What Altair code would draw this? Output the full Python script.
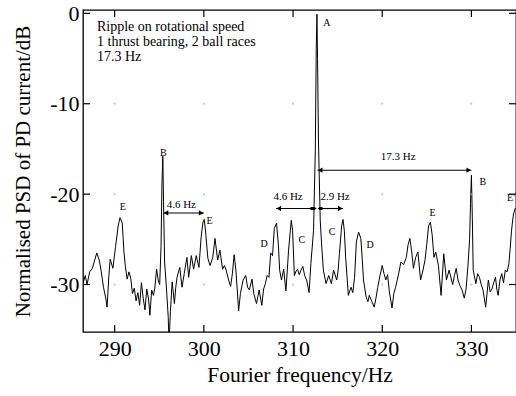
import altair as alt
import pandas as pd

# ---- spectrum ----
freq = [286.45, 286.7, 286.9, 287.2, 287.5, 287.7, 288.0, 288.3, 288.5, 288.75, 289.0, 289.15,
        289.35, 289.5, 289.8, 290.1, 290.4, 290.6, 290.85, 291.05, 291.2, 291.4, 291.6, 291.8,
        292.0, 292.2, 292.4, 292.6, 292.8, 293.0, 293.2, 293.4, 293.6, 293.8, 293.95, 294.15,
        294.35, 294.5, 294.7, 294.9, 295.05, 295.2, 295.3, 295.4, 295.5, 295.6, 295.8, 296.0,
        296.1, 296.25, 296.45, 296.7, 296.85, 297.0, 297.3, 297.55, 297.8, 298.1, 298.3, 298.6,
        298.85, 299.15, 299.45, 299.7, 299.9, 300.05, 300.2, 300.45, 300.7, 301.0, 301.25, 301.55,
        301.8, 302.1, 302.3, 302.5, 302.8, 303.0, 303.2, 303.4, 303.6, 303.9, 304.1, 304.4,
        304.7, 304.9, 305.1, 305.4, 305.6, 305.9, 306.2, 306.5, 306.7, 306.9, 307.1, 307.3,
        307.5, 307.7, 307.9, 308.15, 308.35, 308.5, 308.7, 308.95, 309.2, 309.35, 309.5, 309.8,
        309.95, 310.15, 310.35, 310.5, 310.7, 310.9, 311.1, 311.3, 311.55, 311.8, 312.0, 312.3,
        312.5, 312.6, 312.68, 312.75, 312.85, 313.05, 313.2, 313.4, 313.7, 314.0, 314.3, 314.55,
        314.9, 315.05, 315.2, 315.45, 315.6, 315.75, 315.9, 316.2, 316.5, 316.7, 316.9, 317.1,
        317.35, 317.6, 317.75, 317.9, 318.2, 318.4, 318.55, 318.85, 319.1, 319.3, 319.5, 319.75,
        320.0, 320.2, 320.4, 320.6, 320.8, 321.1, 321.3, 321.5, 321.8, 322.1, 322.4, 322.7,
        322.9, 323.1, 323.3, 323.5, 323.75, 324.0, 324.3, 324.55, 324.8, 325.0, 325.2, 325.4,
        325.6, 325.8, 326.0, 326.3, 326.6, 326.9, 327.2, 327.5, 327.9, 328.1, 328.3, 328.5,
        328.7, 328.95, 329.2, 329.4, 329.6, 329.8, 329.9, 330.0, 330.1, 330.2, 330.5, 330.7,
        330.9, 331.1, 331.3, 331.6, 331.9, 332.1, 332.3, 332.5, 332.7, 332.85, 333.0, 333.2,
        333.4, 333.6, 333.8, 334.0, 334.2, 334.35, 334.5, 334.7, 334.9, 335.0]
psd = [-29.9, -29.0, -30.0, -28.6, -28.2, -27.5, -26.5, -27.4, -28.6, -30.3, -31.5, -32.5,
       -29.0, -27.2, -28.2, -25.8, -23.5, -22.6, -23.2, -26.5, -28.0, -29.4, -28.6, -29.3,
       -31.0, -30.4, -31.8, -30.9, -32.3, -29.8, -31.5, -32.8, -30.5, -31.6, -33.4, -30.6,
       -31.2, -30.4, -28.3, -29.6, -30.0, -25.8, -19.0, -15.8, -22.0, -27.5, -30.3, -33.5,
       -36.5, -33.0, -29.7, -32.1, -30.3, -29.2, -28.1, -30.3, -28.8, -27.0, -29.2, -26.8,
       -28.3, -26.8, -28.1, -24.7, -23.1, -22.8, -24.2, -27.1, -27.9, -27.0, -24.9, -27.3,
       -26.2, -28.3, -27.9, -28.4, -29.6, -30.2, -28.8, -26.7, -28.5, -32.9, -31.0, -29.5,
       -29.0, -30.3, -30.6, -29.4, -31.0, -32.1, -30.6, -32.3, -30.5, -29.9, -29.0, -29.2,
       -26.5, -26.8, -23.8, -23.2, -25.5, -28.4, -29.5, -28.3, -30.7, -28.5, -26.2, -22.9,
       -24.0, -29.0, -28.5, -28.3, -28.9, -28.4, -28.0, -29.0, -29.6, -30.9, -27.7, -24.0,
       -15.0, -4.0, -0.1, -5.0, -14.0, -22.9, -25.5, -28.4, -29.9, -29.0, -29.9, -28.4,
       -29.5, -28.5, -26.6, -23.5, -22.8, -24.0, -27.0, -31.2, -30.3, -30.9, -29.2, -25.3,
       -24.2, -24.9, -27.0, -29.5, -31.4, -31.9, -31.2, -31.9, -32.5, -31.5, -30.3, -29.0,
       -27.9, -28.8, -29.5, -28.9, -30.8, -32.6, -31.0, -30.3, -29.0, -27.5, -27.8, -27.0,
       -25.6, -24.9, -26.3, -28.2, -27.0, -26.4, -29.5, -28.5, -27.3, -25.5, -23.5, -23.1,
       -24.5, -27.0, -26.4, -27.9, -31.2, -26.6, -29.5, -28.4, -30.0, -29.0, -28.2, -29.5,
       -30.1, -30.6, -31.5, -30.5, -28.1, -25.0, -21.0, -17.9, -22.5, -28.4, -29.9, -28.8,
       -29.2, -30.0, -30.6, -32.5, -29.5, -30.8, -30.5, -29.8, -29.2, -30.5, -31.2, -29.5,
       -28.8, -29.8, -28.4, -28.6, -27.7, -26.0, -24.0, -22.3, -21.6, -21.5]

x_ticks = [290, 300, 310, 320, 330]
y_ticks = [0, -10, -20, -30]

# peak labels
peak_text = ["A", "B", "B", "E", "E", "E", "E'", "D", "C", "C", "D"]
peak_f = [313.8, 295.45, 331.27, 290.9, 300.63, 325.64, 334.44, 306.75, 311.0, 314.37, 318.63]
peak_db = [-1.1, -15.4, -18.64, -21.45, -22.94, -22.14, -20.48, -25.51, -25.1, -24.16, -25.65]

# interval labels
gap_text = ["4.6 Hz", "4.6 Hz", "2.9 Hz", "17.3 Hz"]
gap_f = [297.47, 309.44, 314.71, 321.8]
gap_db = [-21.22, -20.34, -20.3, -15.87]

# arrows
arr_f1 = [295.45, 308.1, 312.8, 312.75]
arr_f2 = [300.0, 312.6, 315.6, 330.0]
arr_db = [-22.08, -21.59, -21.59, -17.35]
head_f = [295.75, 299.7, 308.4, 315.3, 313.05, 329.7]
head_db = [-22.08, -22.08, -21.59, -21.59, -17.35, -17.35]
head_shape = ["triangle-left", "triangle-right", "triangle-left", "triangle-right",
              "triangle-left", "triangle-right"]
bar_f1 = [311.95, 312.9]
bar_f2 = [312.5, 313.3]
bar_db = [-21.59, -21.59]

info_lines = ["Ripple on rotational speed", "1 thrust bearing, 2 ball races", "17.3 Hz"]
info_f = [288.02, 288.02, 288.02]
info_db = [-1.48, -3.14, -4.80]

FONT = "Liberation Serif"
W, H = 433, 322
XS = alt.Scale(domain=[286.45, 335.0], nice=False, zero=False)
YS = alt.Scale(domain=[-35.25, 0.37], nice=False, zero=False)

spec = pd.DataFrame({"f": freq, "p": psd})

line = alt.Chart(spec).mark_line(color="black", strokeWidth=1.0, clip=True).encode(
    x=alt.X("f:Q", scale=XS,
            axis=alt.Axis(values=x_ticks, title="Fourier frequency/Hz", ticks=False, domain=False,
                          grid=False, labelFont=FONT, labelFontSize=22, labelColor="black",
                          labelPadding=6, titleFont=FONT, titleFontSize=21.5,
                          titleFontWeight="normal", titleColor="black", titlePadding=5)),
    y=alt.Y("p:Q", scale=YS,
            axis=alt.Axis(values=y_ticks, title="Normalised PSD of PD current/dB", ticks=False,
                          domain=False, grid=False, labelFont=FONT, labelFontSize=22,
                          labelColor="black", labelPadding=4, labelExpr="'' + datum.value",
                          titleFont=FONT, titleFontSize=21, titleFontWeight="normal",
                          titleColor="black", titlePadding=16)),
)

grid_df = pd.DataFrame([(a, b) for a in x_ticks for b in y_ticks[1:]], columns=["f", "p"])
dots = alt.Chart(grid_df).mark_point(filled=True, color="#aaaaaa", size=4, opacity=0.8).encode(
    x=alt.X("f:Q", scale=XS), y=alt.Y("p:Q", scale=YS))

xt = pd.DataFrame({"f": x_ticks})
yt = pd.DataFrame({"p": y_ticks})
tick_bottom = alt.Chart(xt).mark_rule(color="black", strokeWidth=1.2).encode(
    x=alt.X("f:Q", scale=XS), y=alt.value(H), y2=alt.value(H - 7))
tick_top = alt.Chart(xt).mark_rule(color="black", strokeWidth=1.2).encode(
    x=alt.X("f:Q", scale=XS), y=alt.value(0), y2=alt.value(7))
tick_left = alt.Chart(yt).mark_rule(color="black", strokeWidth=1.2).encode(
    y=alt.Y("p:Q", scale=YS), x=alt.value(0), x2=alt.value(7))
tick_right = alt.Chart(yt).mark_rule(color="black", strokeWidth=1.2).encode(
    y=alt.Y("p:Q", scale=YS), x=alt.value(W), x2=alt.value(W - 7))

peaks = alt.Chart(pd.DataFrame({"f": peak_f, "p": peak_db, "t": peak_text})).mark_text(
    font=FONT, fontSize=10, fill="black", align="center", baseline="middle").encode(
    x=alt.X("f:Q", scale=XS), y=alt.Y("p:Q", scale=YS), text="t:N")

gaps = alt.Chart(pd.DataFrame({"f": gap_f, "p": gap_db, "t": gap_text})).mark_text(
    font=FONT, fontSize=11, fill="black", align="center", baseline="middle").encode(
    x=alt.X("f:Q", scale=XS), y=alt.Y("p:Q", scale=YS), text="t:N")

arrows = alt.Chart(pd.DataFrame({"f1": arr_f1, "f2": arr_f2, "p": arr_db})).mark_rule(
    color="black", strokeWidth=1.1).encode(
    x=alt.X("f1:Q", scale=XS), x2="f2:Q", y=alt.Y("p:Q", scale=YS))

bars = alt.Chart(pd.DataFrame({"f1": bar_f1, "f2": bar_f2, "p": bar_db})).mark_rule(
    color="black", strokeWidth=3).encode(
    x=alt.X("f1:Q", scale=XS), x2="f2:Q", y=alt.Y("p:Q", scale=YS))

heads = alt.Chart(pd.DataFrame({"f": head_f, "p": head_db, "s": head_shape})).mark_point(
    filled=True, color="black", size=28, opacity=1).encode(
    x=alt.X("f:Q", scale=XS), y=alt.Y("p:Q", scale=YS), shape=alt.Shape("s:N", scale=None))

info = alt.Chart(pd.DataFrame({"f": info_f, "p": info_db, "t": info_lines})).mark_text(
    font=FONT, fontSize=14, fill="black", align="left", baseline="middle").encode(
    x=alt.X("f:Q", scale=XS), y=alt.Y("p:Q", scale=YS), text="t:N")

chart = alt.layer(line, dots, tick_bottom, tick_top, tick_left, tick_right, arrows, bars, heads,
                  peaks, gaps, info).properties(
    width=W, height=H, autosize="none",
    padding={"left": 83, "top": 10, "right": 0, "bottom": 64},
    background="white",
).configure_view(stroke="black", strokeWidth=1.3)

chart.save("out.html", embed_options={"renderer": "svg", "actions": False})
